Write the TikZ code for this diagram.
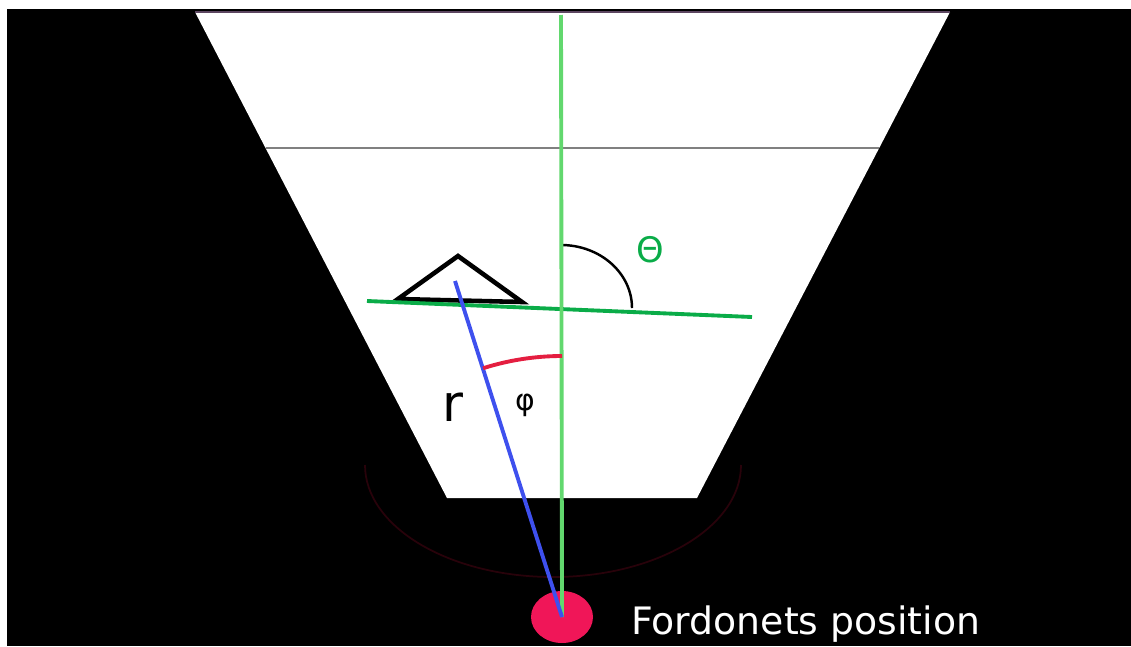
\documentclass[tikz,border=0pt]{standalone}
\usepackage{fontspec}
\setmainfont{DejaVu Sans}
\usepackage{tikz}
\usetikzlibrary{calc,shapes.geometric}
\definecolor{lightgreen}{RGB}{98,216,110}
\definecolor{darkgreen}{RGB}{10,172,72}
\definecolor{rayblue}{RGB}{62,80,238}
\definecolor{arcred}{RGB}{228,30,64}
\definecolor{posred}{RGB}{240,22,88}
\definecolor{rimpurple}{RGB}{92,70,96}
\definecolor{faintred}{RGB}{40,2,10}

\begin{document}
\begin{tikzpicture}[x=0.02cm, y=0.02cm,
  line/.style={line width=2.2pt},
  thin line/.style={line width=1pt},
  label/.style={inner sep=0pt, font=\fontsize{#1}{#1}\selectfont},
  posdot/.style={ellipse, fill=posred, minimum width=1.24cm, minimum height=1.04cm, inner sep=0pt}
]
\useasboundingbox (0,0) rectangle (1131,-646);
\fill[white] (0,0) rectangle (1131,-646);
\fill[black] (7,-9) rectangle (1131,-646);
% faint ring under the view
\draw[faintred, line width=1pt] (365,-465) arc[start angle=180, end angle=360, x radius=188, y radius=112];
% field of view
\coordinate (tl) at (195,-12);
\coordinate (tr) at (950,-12);
\coordinate (br) at (697,-498);
\coordinate (bl) at (447,-498);
\fill[white] (tl) -- (tr) -- (br) -- (bl) -- cycle;
\draw[rimpurple, thin line] (tl) -- (tr);
\draw[gray, thin line] ($(tl)!0.28!(bl)$) coordinate (gl) -- ($(tr)!0.28!(br)$) coordinate (gr);
% object
\coordinate (a) at (398,-299);
\coordinate (b) at (458,-256);
\coordinate (c) at (522,-302);
\draw[line width=2.6pt, line join=miter] (a) -- (b) -- (c) -- cycle;
\coordinate (hl) at (367,-301);
\coordinate (hr) at (752,-317);
\draw[darkgreen, line] (hl) -- (hr);
% theta arc
\draw[black, line width=1.4pt] (561,-245) arc[start angle=90, end angle=0, x radius=71, y radius=63];
\node[label=20pt, text=darkgreen] (theta) at (650,-250) {Θ};
% position
\node[posdot] (pos) at (562,-617) {};
\coordinate (top) at (561,-15);
\coordinate (obj) at (455,-281);
\draw[lightgreen, line] (top) -- (pos.center);
\draw[rayblue, line] (obj) -- (pos.center);
\draw[arcred, line] ($(pos.center)+(0,261)$) arc[start angle=90, end angle=107.6, radius=261];
\node[label=29pt] (r) at (453,-407) {r};
\node[label=17pt] (phi) at (525,-405) {φ};
\node[label=21.5pt, text=white, anchor=west] (name) at (631,-624) {Fordonets position};
\end{tikzpicture}
\end{document}
